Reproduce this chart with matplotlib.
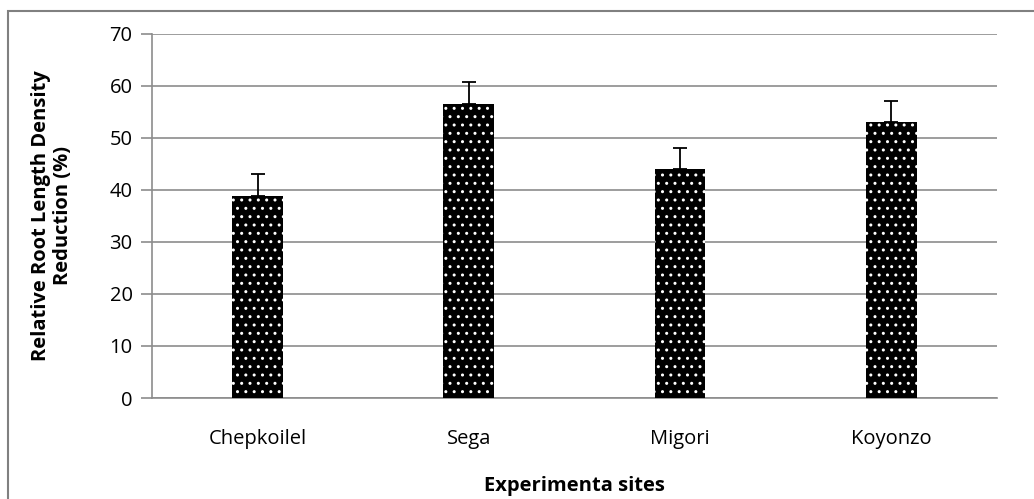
import matplotlib.pyplot as plt
import matplotlib.patches as mpatches
import numpy as np

plt.rcParams['font.family'] = ['Open Sans', 'DejaVu Sans']
plt.rcParams['hatch.color'] = 'white'
plt.rcParams['hatch.linewidth'] = 1.0

# Data
sites = ['Chepkoilel', 'Sega', 'Migori', 'Koyonzo']
reduction = [38.8, 56.6, 44.0, 53.0]
reduction_err = [4.2, 4.1, 4.0, 4.1]

fig = plt.figure(figsize=(10.34, 4.99), dpi=100)
ax = fig.add_axes([0.147, 0.2024, 0.817, 0.7296])

x = np.arange(len(sites))
ax.bar(x, reduction, width=0.24, color='black', edgecolor='white',
       linewidth=0, hatch='..', zorder=3)
ax.errorbar(x, reduction, yerr=[np.zeros(len(sites)), reduction_err],
            fmt='none', ecolor='black', elinewidth=1.3, capsize=5,
            capthick=1.3, zorder=4)

ax.set_xlim(-0.5, len(sites) - 0.5)
ax.set_ylim(0, 70)
ax.set_yticks(np.arange(0, 71, 10))
ax.set_xticks(x)
ax.set_xticklabels(sites, fontsize=14.5)
ax.tick_params(axis='y', labelsize=14.5, color='#8c8c8c', length=8, width=1.2, pad=6)
ax.tick_params(axis='x', length=0, pad=22)

ax.grid(axis='y', color='#8c8c8c', linewidth=1.2, zorder=0)
for s in ['top', 'right']:
    ax.spines[s].set_visible(False)
ax.spines['left'].set_color('#8c8c8c')
ax.spines['bottom'].set_color('#8c8c8c')
ax.spines['left'].set_linewidth(1.2)
ax.spines['bottom'].set_linewidth(1.2)

ax.set_ylabel('Relative Root Length Density\nReduction (%)', fontsize=14.5,
              fontweight='bold', labelpad=26, linespacing=1.15)
ax.set_xlabel('Experimenta sites', fontsize=14.5, fontweight='bold', labelpad=20)

# Outer chart border (cropped on right and bottom)
border = mpatches.Rectangle((8 / 1034, -0.1), 1.2, 1 - 11 / 499 + 0.1,
                            transform=fig.transFigure, fill=False,
                            edgecolor='#808080', linewidth=1.5)
fig.patches.append(border)

fig.savefig('out.png', dpi=100)
